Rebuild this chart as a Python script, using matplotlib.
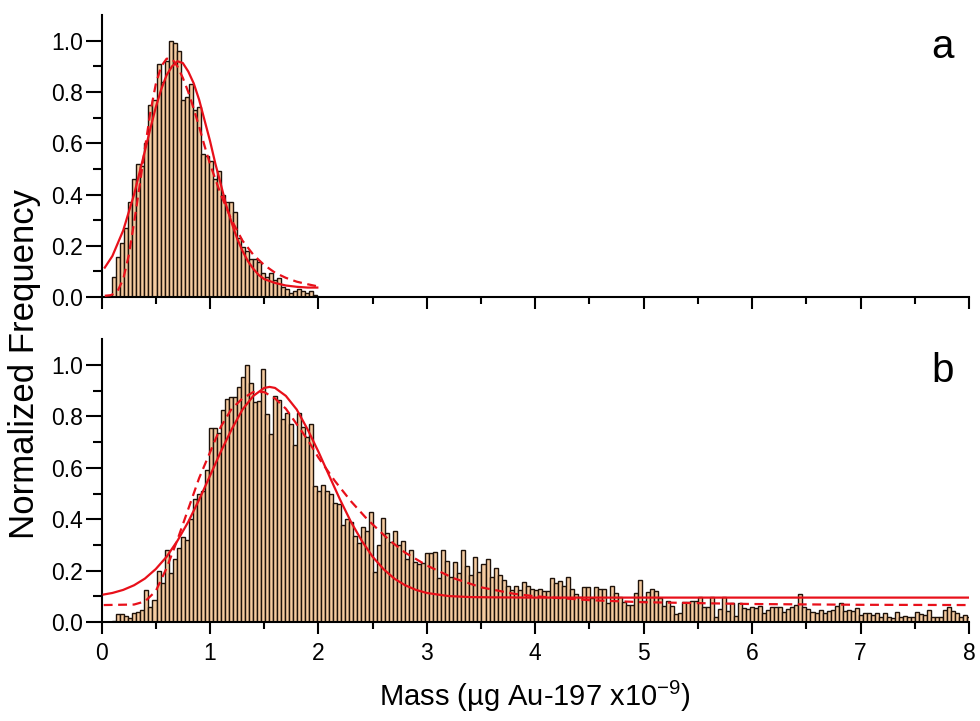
import numpy as np
import matplotlib.pyplot as plt

plt.rcParams['font.family'] = ['Liberation Sans', 'DejaVu Sans']
plt.rcParams['mathtext.fontset'] = 'custom'
plt.rcParams['mathtext.rm'] = 'Liberation Sans'

# histogram bins (left edges start at 0.1, same bin width in both panels)
bin_start = 0.1
bin_w = 0.037

# panel a: normalized counts
hist_a = [0.08, 0.157, 0.21, 0.27, 0.37, 0.46, 0.52, 0.51, 0.60, 0.75,
          0.77, 0.91, 0.84, 0.92, 1.0, 0.99, 0.96, 0.77, 0.78, 0.83,
          0.73, 0.74, 0.56, 0.55, 0.53, 0.46, 0.49, 0.40, 0.37, 0.37,
          0.33, 0.23, 0.196, 0.18, 0.15, 0.147, 0.137, 0.092, 0.08, 0.092,
          0.066, 0.073, 0.04, 0.032, 0.017, 0.025, 0.032, 0.025, 0.014, 0.025,
          0.008]

# panel b: normalized counts
hist_b = [0.005, 0.03, 0.03, 0.022, 0.017, 0.036, 0.039, 0.045, 0.125, 0.058,
          0.086, 0.20, 0.15, 0.28, 0.19, 0.245, 0.287, 0.33, 0.32, 0.40,
          0.48, 0.50, 0.51, 0.59,
          0.756, 0.756, 0.734, 0.825, 0.866, 0.877, 0.877, 0.914, 0.955, 1.0,
          0.93, 0.857, 0.86, 0.985, 0.81, 0.73, 0.88, 0.864, 0.79, 0.815,
          0.77, 0.69, 0.815, 0.76, 0.72, 0.77,
          0.53, 0.51, 0.533, 0.51, 0.50, 0.464, 0.458, 0.377, 0.40, 0.39,
          0.335, 0.306, 0.371, 0.355, 0.428, 0.196,
          0.30, 0.406, 0.345, 0.31, 0.355, 0.30, 0.315, 0.245, 0.28, 0.232,
          0.226, 0.231, 0.27, 0.27, 0.274, 0.17,
          0.28, 0.237, 0.176, 0.232, 0.19, 0.28, 0.218, 0.183, 0.252, 0.196,
          0.226, 0.245, 0.176, 0.211, 0.183, 0.163, 0.141, 0.125, 0.14, 0.125,
          0.157, 0.141, 0.127, 0.125,
          0.127, 0.12, 0.12, 0.17, 0.15, 0.16, 0.14, 0.176, 0.127, 0.108,
          0.099, 0.135, 0.135, 0.092, 0.135, 0.127, 0.127, 0.075, 0.141, 0.114,
          0.099, 0.079, 0.066, 0.066, 0.114, 0.163, 0.083, 0.118, 0.127, 0.122,
          0.092, 0.062, 0.083, 0.062, 0.031, 0.036, 0.078, 0.078, 0.083, 0.083,
          0.099, 0.057, 0.057, 0.096, 0.021, 0.049, 0.096, 0.044, 0.073, 0.023,
          0.075, 0.053, 0.05, 0.06,
          0.053, 0.062, 0.036, 0.047, 0.057, 0.057, 0.057, 0.04, 0.049, 0.057,
          0.066, 0.108, 0.057, 0.049, 0.04, 0.034, 0.047, 0.034, 0.044, 0.047,
          0.062, 0.075, 0.044, 0.047, 0.044, 0.053, 0.027, 0.036, 0.034, 0.027,
          0.036, 0.021, 0.036, 0.018, 0.014, 0.04, 0.018, 0.023, 0.018, 0.021,
          0.04, 0.03, 0.027, 0.047, 0.018, 0.018, 0.018, 0.047, 0.06, 0.041,
          0.034, 0.018, 0.027, 0.018]

# fit curves (solid and dashed)
fit_a_x = [0.03, 0.1, 0.15, 0.2, 0.25, 0.3, 0.35, 0.4, 0.45, 0.5, 0.55, 0.6, 0.65,
           0.7, 0.75, 0.8, 0.85, 0.9, 0.95, 1.0, 1.05, 1.1, 1.15, 1.2, 1.25,
           1.3, 1.35, 1.4, 1.45, 1.5, 1.6, 1.7, 1.8, 1.9, 1.99]
fit_a_y = [0.115, 0.16, 0.21, 0.26, 0.33, 0.40, 0.485, 0.57, 0.657, 0.74, 0.81, 0.866, 0.90,
           0.92, 0.913, 0.88, 0.834, 0.77, 0.69, 0.61, 0.52, 0.44, 0.358, 0.29, 0.229,
           0.18, 0.14, 0.11, 0.086, 0.07, 0.055, 0.045, 0.04, 0.037, 0.037]
fit_a2_x = [0.03, 0.08, 0.1, 0.15, 0.2, 0.25, 0.3, 0.35, 0.4, 0.45, 0.5, 0.55, 0.6,
            0.65, 0.7, 0.75, 0.8, 0.85, 0.9, 0.95, 1.0, 1.1, 1.2, 1.3, 1.4, 1.5,
            1.6, 1.7, 1.8, 1.9, 1.99]
fit_a2_y = [0.005, 0.007, 0.01, 0.025, 0.07, 0.16, 0.29, 0.43, 0.58, 0.72, 0.83, 0.90, 0.93,
            0.93, 0.90, 0.855, 0.80, 0.735, 0.665, 0.59, 0.52, 0.40, 0.30, 0.22, 0.165, 0.125,
            0.095, 0.075, 0.06, 0.05, 0.042]

fit_b_x = [0.02, 0.1, 0.2, 0.3, 0.4, 0.5, 0.6, 0.7, 0.8, 0.9, 1.0, 1.1, 1.2, 1.3,
           1.4, 1.5, 1.55, 1.6, 1.7, 1.8, 1.9, 2.0, 2.1, 2.2, 2.3, 2.4, 2.5, 2.6,
           2.7, 2.8, 2.9, 3.0, 3.2, 3.4, 3.6, 4.0, 5.0, 6.0, 7.0, 8.0]
fit_b_y = [0.107, 0.113, 0.125, 0.143, 0.169, 0.206, 0.254, 0.316, 0.39, 0.476, 0.569, 0.663,
           0.75, 0.827, 0.88, 0.911, 0.915, 0.911, 0.88, 0.827, 0.75, 0.663, 0.569, 0.476,
           0.39, 0.316, 0.254, 0.206, 0.169, 0.143, 0.125, 0.113, 0.101, 0.097, 0.096,
           0.095, 0.095, 0.095, 0.095, 0.095]
fit_b2_x = [0.02, 0.3, 0.4, 0.5, 0.6, 0.7, 0.8, 0.9, 1.0, 1.1, 1.2, 1.3, 1.4, 1.5,
            1.6, 1.7, 1.8, 1.9, 2.0, 2.15, 2.3, 2.45, 2.65, 2.8, 3.0, 3.25, 3.5, 3.8,
            4.0, 4.5, 5.0, 6.0, 7.0, 8.0]
fit_b2_y = [0.066, 0.068, 0.08, 0.12, 0.21, 0.32, 0.44, 0.56, 0.66, 0.76, 0.83, 0.87, 0.895, 0.895,
            0.87, 0.83, 0.77, 0.71, 0.64, 0.55, 0.47, 0.40, 0.32, 0.27, 0.22, 0.17, 0.135, 0.11,
            0.10, 0.085, 0.077, 0.07, 0.067, 0.066]

bar_face = '#f5cba0'
bar_edge = '#1e120a'
red = '#e8101a'

fig = plt.figure(figsize=(9.8, 7.21), dpi=100)
ax_a = fig.add_axes([0.1036, 0.588, 0.8852, 0.391])
ax_b = fig.add_axes([0.1036, 0.1373, 0.8852, 0.392])

def panel(ax, counts, cx, cy, dx, dy, letter):
    edges = bin_start + bin_w * np.arange(len(counts))
    ax.bar(edges, counts, width=bin_w, align='edge', facecolor=bar_face,
           edgecolor=bar_edge, linewidth=1.0, zorder=2)
    ax.plot(cx, cy, '-', color=red, lw=1.6, zorder=3)
    ax.plot(dx, dy, color=red, lw=1.6, linestyle=(0, (4, 2.5)), zorder=3)
    ax.set_xlim(0, 8)
    ax.set_ylim(0, 1.1)
    ax.set_xticks(np.arange(0, 9, 1))
    ax.set_xticks(np.arange(0.5, 8, 1), minor=True)
    ax.set_yticks([0, 0.2, 0.4, 0.6, 0.8, 1.0])
    ax.set_yticks([0.1, 0.3, 0.5, 0.7, 0.9], minor=True)
    ax.set_yticklabels(['0.0', '0.2', '0.4', '0.6', '0.8', '1.0'])
    for s in ['top', 'right']:
        ax.spines[s].set_visible(False)
    for s in ['left', 'bottom']:
        ax.spines[s].set_linewidth(1.5)
    ax.tick_params(axis='x', which='major', direction='out', length=8.5, width=1.5,
                   labelsize=16.5, pad=6)
    ax.tick_params(axis='x', which='minor', direction='out', length=5, width=1.5)
    ax.tick_params(axis='y', which='major', direction='out', length=11.5, width=1.5,
                   labelsize=16.5, pad=2)
    ax.tick_params(axis='y', which='minor', direction='out', length=6.5, width=1.5)
    ax.text(0.982, 0.848, letter, transform=ax.transAxes, fontsize=29,
            ha='right', va='baseline')

panel(ax_a, hist_a, fit_a_x, fit_a_y, fit_a2_x, fit_a2_y, 'a')
panel(ax_b, hist_b, fit_b_x, fit_b_y, fit_b2_x, fit_b2_y, 'b')
ax_a.set_xticklabels([])

ax_b.set_xlabel('Mass (\u00b5g Au-197 x10$^{\\mathregular{-9}}$)', fontsize=21, labelpad=10)
fig.text(0.025, 0.495, 'Normalized Frequency', rotation=90, fontsize=25,
         ha='center', va='center')

plt.savefig('out.png', dpi=100)
